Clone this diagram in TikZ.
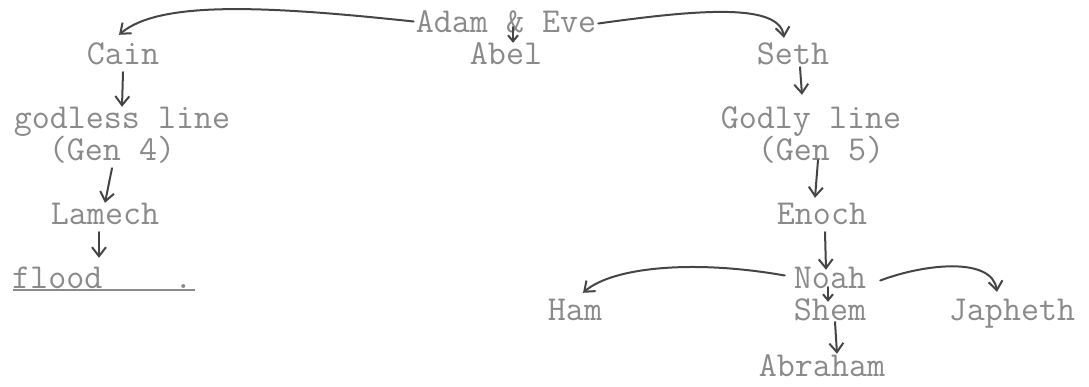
\documentclass[tikz,border=0pt]{standalone}
\usepackage{fontspec}
\usepackage{tikz}
\usepackage{xcolor}
\usetikzlibrary{arrows.meta,calc}
\definecolor{inkgray}{HTML}{8A8A8A}
\definecolor{inkdark}{HTML}{454545}

\begin{document}
\begin{tikzpicture}[x=1pt, y=1pt,
    typed/.style={font=\fontsize{35}{35}\ttfamily, text=inkgray, inner sep=2pt,
        anchor=base, text height=19pt, text depth=6pt},
    hand/.style={draw=inkdark, line width=2pt, line cap=round,
        -{Straight Barb[length=9pt,width=14pt]}},
    tick/.style={draw=inkdark, line width=2pt, line cap=round,
        -{Straight Barb[length=6pt,width=10pt]}}]
    \useasboundingbox (0,0) rectangle (1089,-386);
    % First family
    \node[typed] (adam) at (506,-32) {Adam \& Eve};
    \node[typed] (abel) at (506,-64) {Abel};
    \node[typed] (cain) at (123,-64) {Cain};
    \node[typed] (seth) at (793,-64) {Seth};
    % Line of Cain
    \node[typed] (godless) at (122,-128) {godless line};
    \node[typed] (gen4) at (112,-160) {(Gen 4)};
    \node[typed] (lamech) at (105,-224) {Lamech};
    \node[typed, anchor=base west] (flood) at (10,-288) {flood\phantom{xxxx}.};
    \draw[inkgray, line width=1.2pt] ([xshift=3pt,yshift=-2pt]flood.base west) -- ([yshift=-2pt]flood.base east);
    % Line of Seth
    \node[typed] (godly) at (811,-128) {Godly line};
    \node[typed] (gen5) at (821,-160) {(Gen 5)};
    \node[typed] (enoch) at (822,-224) {Enoch};
    \node[typed] (noah) at (830,-288) {Noah};
    \node[typed] (ham) at (575,-320) {Ham};
    \node[typed] (shem) at (830,-320) {Shem};
    \node[typed] (japheth) at (1012,-320) {Japheth};
    \node[typed, text depth=0pt, inner sep=1pt] (abraham) at (822,-376) {Abraham};
    % Sons of Adam
    \draw[hand] ([yshift=4pt]adam.west) .. controls +(-150,16) and +(40,34) .. ([xshift=-4pt,yshift=8pt]cain.north);
    \draw[tick] ([xshift=7pt,yshift=5pt]adam.base) -- ([xshift=7pt]abel.north);
    \draw[hand] ([yshift=2pt]adam.east) .. controls +(100,14) and +(-5,35) .. ([xshift=-9pt,yshift=5pt]seth.north);
    % Down the left
    \draw[hand] (cain.south) -- (godless.north);
    \draw[hand] (gen4.south) -- (lamech.north);
    \draw[hand] ([xshift=-6pt]lamech.south) -- ($(lamech.south |- flood.north)+(-6,9)$);
    % Down the right
    \draw[hand] ([xshift=7pt,yshift=5pt]seth.south) -- ($(seth.south |- godly.north)+(9,12)$);
    \draw[hand] ([xshift=-3pt,yshift=8pt]gen5.south) -- ([xshift=-7pt,yshift=5pt]enoch.north);
    \draw[hand] ([xshift=3pt]enoch.south) -- ([xshift=-4pt,yshift=-3pt]noah.north);
    % Sons of Noah
    \draw[hand] ([xshift=-7pt,yshift=6pt]noah.west) .. controls +(-90,16) and +(30,26) .. ([xshift=8pt,yshift=6pt]ham.north);
    \draw[tick] ([xshift=-2pt,yshift=1pt]noah.base) -- ([xshift=-2pt,yshift=-3pt]shem.north);
    \draw[hand] ([xshift=12pt,yshift=1pt]noah.east) .. controls +(45,17) and +(-5,35) .. ([xshift=-15pt,yshift=7pt]japheth.north);
    \draw[hand] ([xshift=5pt,yshift=-2pt]shem.base) -- ([xshift=15pt,yshift=2pt]abraham.north);
\end{tikzpicture}
\end{document}
